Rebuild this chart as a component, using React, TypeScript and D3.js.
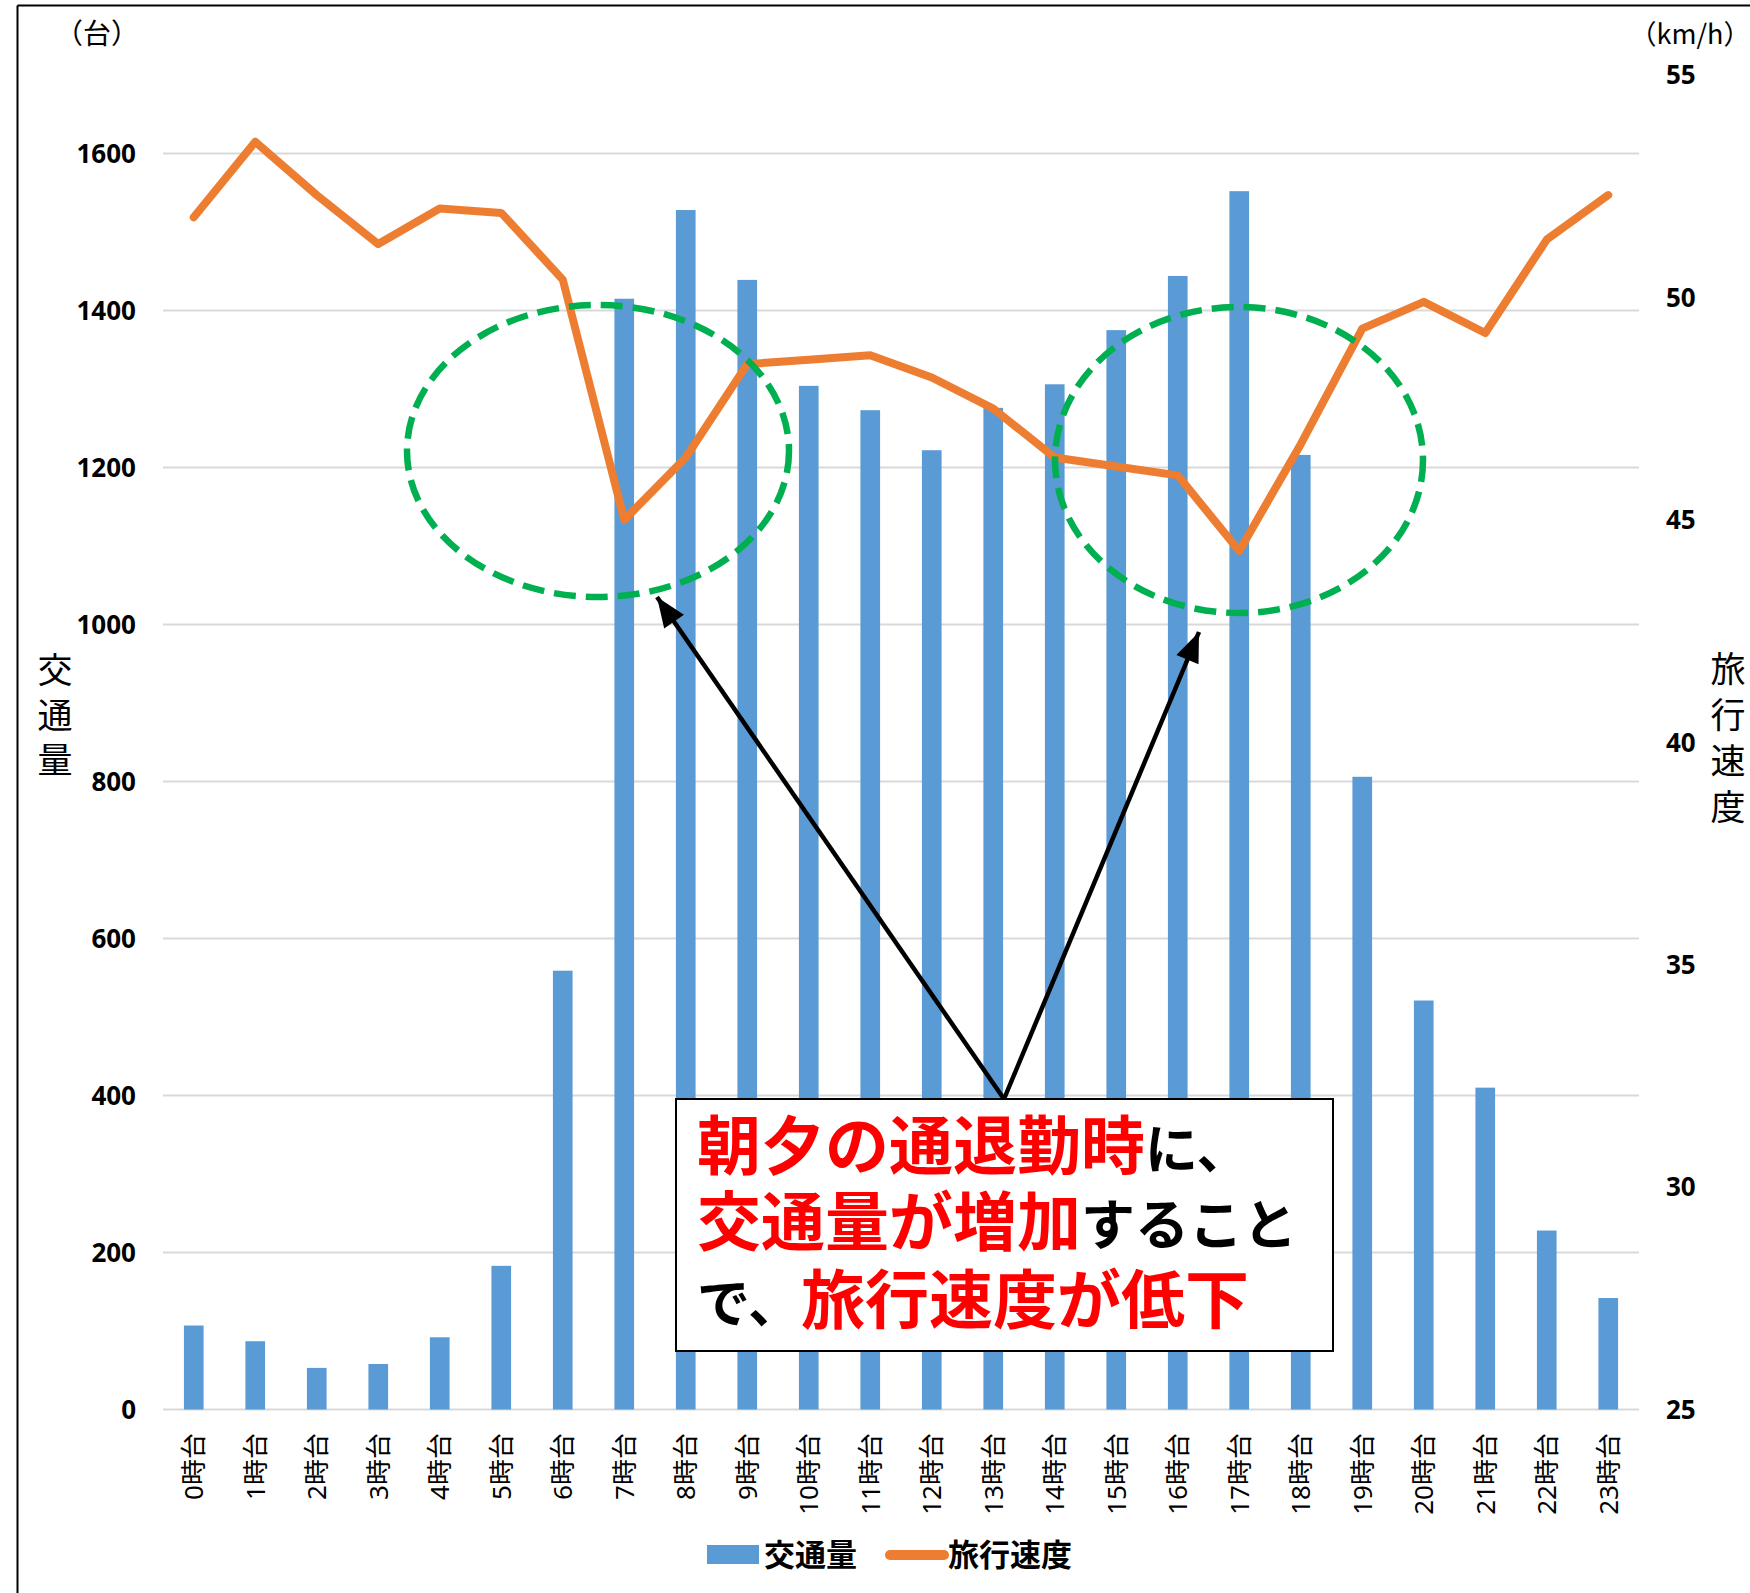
import * as d3 from "d3";

// hourly categories
const hours = [
  "0時台", "1時台", "2時台", "3時台", "4時台", "5時台", "6時台", "7時台",
  "8時台", "9時台", "10時台", "11時台", "12時台", "13時台", "14時台", "15時台",
  "16時台", "17時台", "18時台", "19時台", "20時台", "21時台", "22時台", "23時台",
];

// 交通量 (台)
const traffic = [
  107, 87, 53, 58, 92, 183, 559, 1415, 1528, 1439, 1304, 1273,
  1222, 1276, 1306, 1375, 1444, 1552, 1216, 806, 521, 410, 228, 142,
];

// 旅行速度 (km/h)
const speed = [
  51.8, 53.5, 52.3, 51.2, 52.0, 51.9, 50.4, 45.0, 46.4, 48.5, 48.6, 48.7,
  48.2, 47.5, 46.4, 46.2, 46.0, 44.3, 46.7, 49.3, 49.9, 49.2, 51.3, 52.3,
];

const leftTicks = [0, 200, 400, 600, 800, 1000, 1200, 1400, 1600];
const rightTicks = [25, 30, 35, 40, 45, 50, 55];

const BLUE = "#5B9BD5";
const ORANGE = "#ED7D31";
const GREEN = "#00B050";
const CJK = "'Noto Sans CJK JP', sans-serif";
const NUM = "'Noto Sans', 'Noto Sans CJK JP', sans-serif";

export default function App() {
  const width = 1750, height = 1593;
  const plot = { left: 163, right: 1639, top: 75, bottom: 1409.5 };

  const x = d3.scaleBand<string>()
    .domain(hours)
    .range([plot.left, plot.right])
    .paddingInner(0.68)
    .paddingOuter(0.34);
  const yL = d3.scaleLinear().domain([0, 1700]).range([plot.bottom, plot.top]);
  const yR = d3.scaleLinear().domain([25, 55]).range([plot.bottom, plot.top]);
  const cx = (h: string) => (x(h) as number) + x.bandwidth() / 2;

  const line = d3.line<number>()
    .x((_, i) => cx(hours[i]))
    .y((d) => yR(d));

  // arrows from the note box up to the two ellipses
  const arrowFrom: [number, number] = [1004, 1099];
  const arrowTips: [number, number][] = [[657, 597], [1199, 632]];
  const arrowHead = (tip: [number, number]) => {
    const dx = arrowFrom[0] - tip[0], dy = arrowFrom[1] - tip[1];
    const len = Math.hypot(dx, dy);
    const ux = dx / len, uy = dy / len;
    const L = 30, W = 12;
    const bx = tip[0] + ux * L, by = tip[1] + uy * L;
    return [
      [tip[0], tip[1]],
      [bx - uy * W, by + ux * W],
      [bx + uy * W, by - ux * W],
    ].map((p) => p.join(",")).join(" ");
  };

  return (
    <svg
      width={width}
      height={height}
      style={{ position: "absolute", left: 0, top: 0, background: "#fff" }}
    >
      <rect x={0} y={0} width={width} height={height} fill="#fff" />
      {/* outer frame */}
      <line x1={17.5} y1={5.5} x2={width} y2={5.5} stroke="#000" strokeWidth={2} />
      <line x1={17.5} y1={5.5} x2={17.5} y2={height} stroke="#000" strokeWidth={2} />

      {/* gridlines */}
      {leftTicks.map((t) => (
        <line key={t} x1={plot.left} x2={plot.right} y1={yL(t)} y2={yL(t)}
          stroke="#D9D9D9" strokeWidth={2} />
      ))}

      {/* bars */}
      {hours.map((h, i) => (
        <rect key={h} x={x(h)} y={yL(traffic[i])} width={x.bandwidth()}
          height={plot.bottom - yL(traffic[i])} fill={BLUE} />
      ))}

      {/* speed line */}
      <path d={line(speed) || ""} fill="none" stroke={ORANGE} strokeWidth={8}
        strokeLinejoin="round" strokeLinecap="round" />

      {/* left ticks */}
      {leftTicks.map((t) => (
        <text key={t} x={136} y={yL(t)} dy="0.36em" textAnchor="end"
          fontFamily={NUM} fontWeight={700} fontSize={26} fill="#000">{t}</text>
      ))}
      {/* right ticks */}
      {rightTicks.map((t) => (
        <text key={t} x={1666} y={yR(t)} dy="0.36em" textAnchor="start"
          fontFamily={NUM} fontWeight={700} fontSize={26} fill="#000">{t}</text>
      ))}

      {/* x labels */}
      {hours.map((h) => (
        <text key={h} transform={`translate(${cx(h)},1433) rotate(-90)`}
          dy="0.36em" textAnchor="end" fontFamily={NUM} fontSize={26} fill="#000">{h}</text>
      ))}

      {/* unit labels */}
      <text x={97} y={44} textAnchor="middle" fontFamily={CJK} fontSize={28} fill="#000">（台）</text>
      <text x={1690} y={44} textAnchor="middle" fontFamily={CJK} fontSize={27} fill="#000">（km/h）</text>

      {/* axis titles */}
      {"交通量".split("").map((c, i) => (
        <text key={c} x={55} y={667 + i * 45} dominantBaseline="central" textAnchor="middle"
          fontFamily={CJK} fontSize={35} fill="#000">{c}</text>
      ))}
      {"旅行速度".split("").map((c, i) => (
        <text key={c} x={1728} y={666 + i * 46} dominantBaseline="central" textAnchor="middle"
          fontFamily={CJK} fontSize={35} fill="#000">{c}</text>
      ))}

      {/* dashed ellipses */}
      <ellipse cx={598} cy={451} rx={191} ry={146} fill="none" stroke={GREEN}
        strokeWidth={6.5} strokeDasharray="22 10" />
      <ellipse cx={1239} cy={460} rx={184} ry={153} fill="none" stroke={GREEN}
        strokeWidth={6.5} strokeDasharray="22 10" />

      {/* arrows */}
      {arrowTips.map((tip, i) => (
        <g key={i}>
          <line x1={arrowFrom[0]} y1={arrowFrom[1]} x2={tip[0]} y2={tip[1]}
            stroke="#000" strokeWidth={4.5} />
          <polygon points={arrowHead(tip)} fill="#000" />
        </g>
      ))}

      {/* note box */}
      <rect x={676} y={1099} width={657} height={252} fill="#fff" stroke="#000" strokeWidth={2} />
      <text x={697} y={1169} fontFamily={CJK} fontWeight={700}>
        <tspan fill="#FF0000" fontSize={64}>朝夕の通退勤時</tspan>
        <tspan fill="#000" fontSize={53}>に、</tspan>
      </text>
      <text x={697} y={1245} fontFamily={CJK} fontWeight={700}>
        <tspan fill="#FF0000" fontSize={64}>交通量が増加</tspan>
        <tspan fill="#000" fontSize={54}>すること</tspan>
      </text>
      <text x={697} y={1323} fontFamily={CJK} fontWeight={700}>
        <tspan fill="#000" fontSize={53}>で、</tspan>
        <tspan fill="#FF0000" fontSize={64}>旅行速度が低下</tspan>
      </text>

      {/* legend */}
      <rect x={707} y={1545} width={52} height={19} fill={BLUE} />
      <text x={764} y={1566} fontFamily={CJK} fontWeight={700} fontSize={31} fill="#000">交通量</text>
      <line x1={890} x2={944} y1={1555} y2={1555} stroke={ORANGE} strokeWidth={10} strokeLinecap="round" />
      <text x={948} y={1566} fontFamily={CJK} fontWeight={700} fontSize={31} fill="#000">旅行速度</text>
    </svg>
  );
}
